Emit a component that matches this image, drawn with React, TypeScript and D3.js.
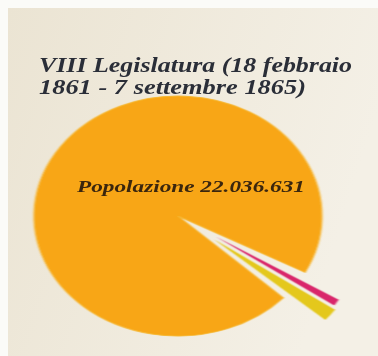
import React from "react";
import * as d3 from "d3";

// Slices as shares of the full circle (percent).
// Blank entries are the white space left around the exploded slices.
const categories = ["Popolazione", "", "Votanti", "Elettori", ""];
const shares = [95.85, 1.0, 0.9, 1.7, 0.55];
const colors = ["#f8a612", "none", "#d9276b", "#e4c81c", "none"];
const exploded = [false, false, true, true, false];
const titleLines = ["VIII Legislatura (18 febbraio", "1861 - 7 settembre 1865)"];
const centerLabel = "Popolazione 22.036.631";

const W = 378;
const H = 356;

export default function App() {
  const cx = 178;
  const cy = 216;
  const r = 120;
  const sx = 1.2;
  const startDeg = 133;
  const total = d3.sum(shares);
  const angle = d3
    .scaleLinear()
    .domain([0, total])
    .range([(startDeg * Math.PI) / 180, (startDeg * Math.PI) / 180 + 2 * Math.PI]);
  const cum = d3.cumsum(shares);
  const slices = shares.map((v, i) => ({
    i,
    startAngle: angle(cum[i] - v),
    endAngle: angle(cum[i]),
  }));
  const outerR = [r, r, 120, 123, r];
  const offset = 38;

  return (
    <svg
      width={W}
      height={H}
      style={{ position: "fixed", left: 0, top: 0 }}
      viewBox={`0 0 ${W} ${H}`}
    >
      <defs>
        <linearGradient id="bg" x1="0" y1="0" x2="1" y2="0.3">
          <stop offset="0" stopColor="#ebe4d3" />
          <stop offset="1" stopColor="#f4f0e6" />
        </linearGradient>
        <filter id="soft" x="-10%" y="-10%" width="120%" height="120%">
          <feGaussianBlur stdDeviation="0.7" />
        </filter>
        <filter id="softT" x="-5%" y="-20%" width="110%" height="140%">
          <feGaussianBlur stdDeviation="0.45" />
        </filter>
      </defs>
      <rect x={0} y={0} width={W} height={H} fill="#fbfbf8" />
      <rect x={8} y={8} width={W - 8} height={H - 8} fill="url(#bg)" />

      <g transform={`translate(${cx},${cy}) scale(${sx},1)`} filter="url(#soft)">
        {slices.map((s) => {
          if (colors[s.i] === "none") return null;
          const arc = d3.arc<any>().innerRadius(0).outerRadius(outerR[s.i]);
          const mid = (s.startAngle + s.endAngle) / 2;
          const dx = exploded[s.i] ? Math.sin(mid) * offset : 0;
          const dy = exploded[s.i] ? -Math.cos(mid) * offset : 0;
          return (
            <path
              key={s.i}
              d={arc(s) || ""}
              transform={`translate(${dx},${dy})`}
              fill={colors[s.i]}
              stroke={s.i === 0 ? "#f6b733" : "none"}
              strokeWidth={s.i === 0 ? 1 : 0}
            >
              <title>{categories[s.i]}</title>
            </path>
          );
        })}
      </g>

      <g
        fontFamily="'Liberation Serif', 'DejaVu Serif', serif"
        fontWeight="bold"
        fontStyle="italic"
        filter="url(#softT)"
      >
        <text x={39} y={72} fontSize={22} fill="#2b2e38" textLength={313} lengthAdjust="spacingAndGlyphs">
          {titleLines[0]}
        </text>
        <text x={39} y={94} fontSize={22} fill="#2b2e38" textLength={267} lengthAdjust="spacingAndGlyphs">
          {titleLines[1]}
        </text>
        <text x={77} y={192} fontSize={17} fill="#3a2610" textLength={228} lengthAdjust="spacingAndGlyphs">
          {centerLabel}
        </text>
      </g>
    </svg>
  );
}
